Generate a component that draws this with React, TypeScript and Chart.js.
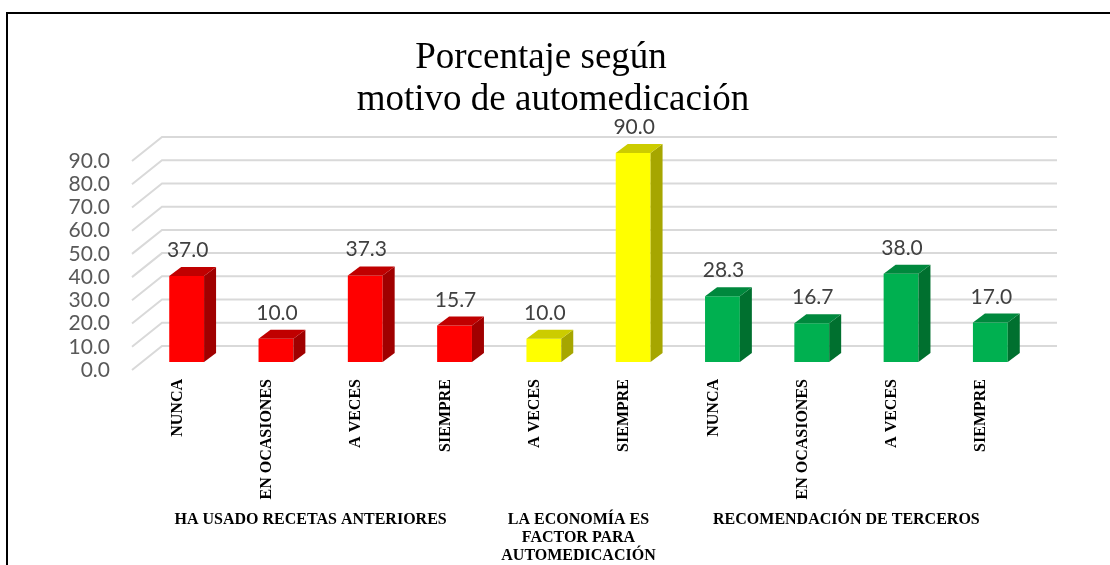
import React, { useEffect, useRef } from "react";
import { Chart, registerables } from "chart.js";

Chart.register(...registerables);

const categories = [
  "NUNCA",
  "EN OCASIONES",
  "A VECES",
  "SIEMPRE",
  "A VECES",
  "SIEMPRE",
  "NUNCA",
  "EN OCASIONES",
  "A VECES",
  "SIEMPRE",
];
const values = [37.0, 10.0, 37.3, 15.7, 10.0, 90.0, 28.3, 16.7, 38.0, 17.0];
const groupIndex = [0, 0, 0, 0, 1, 1, 2, 2, 2, 2];
const groupLabels = [
  ["HA USADO RECETAS ANTERIORES"],
  ["LA ECONOMÍA ES", "FACTOR PARA", "AUTOMEDICACIÓN"],
  ["RECOMENDACIÓN DE TERCEROS"],
];
const yTicks = [0, 10, 20, 30, 40, 50, 60, 70, 80, 90];
const titleLines = ["Porcentaje según", "motivo de automedicación"];

const frontColors = ["#FF0000", "#FFFF00", "#00B050"];
const topColors = ["#C00000", "#CCCC00", "#00883D"];
const sideColors = ["#A00000", "#A6A600", "#00702F"];

const DEPTH_X = 12;
const DEPTH_Y = 9;

const threeDPlugin = {
  id: "threeD",
  beforeDatasetsDraw(chart: any) {
    const { ctx, chartArea, scales } = chart;
    const ys = scales.y;
    const xs = scales.x;
    ctx.save();
    // border
    ctx.strokeStyle = "#000";
    ctx.lineWidth = 2;
    ctx.beginPath();
    ctx.moveTo(7, 570);
    ctx.lineTo(7, 13);
    ctx.lineTo(1115, 13);
    ctx.stroke();

    // title
    ctx.fillStyle = "#000";
    ctx.font = "37px 'Liberation Serif'";
    ctx.textAlign = "center";
    ctx.textBaseline = "alphabetic";
    ctx.fillText(titleLines[0], 541, 68);
    ctx.fillText(titleLines[1], 553, 110);

    // gridlines: back wall + diagonal side wall
    const frontL = chartArea.left - 10;
    const backL = chartArea.left + 20;
    const backR = chartArea.right + 22;
    ctx.strokeStyle = "#D9D9D9";
    ctx.lineWidth = 2;
    yTicks.forEach((v) => {
      const y = ys.getPixelForValue(v);
      ctx.beginPath();
      ctx.moveTo(frontL, y + 8);
      ctx.lineTo(backL, y - 16);
      ctx.lineTo(backR, y - 16);
      ctx.stroke();
    });

    // y tick labels
    ctx.fillStyle = "#595959";
    ctx.font = "21px Lato";
    ctx.textAlign = "right";
    ctx.textBaseline = "middle";
    yTicks.forEach((v) => {
      const y = ys.getPixelForValue(v);
      ctx.fillText(v.toFixed(1), 110, y + 8);
    });

    // category labels (rotated)
    ctx.fillStyle = "#000";
    ctx.font = "bold 16px 'Liberation Serif'";
    categories.forEach((c, i) => {
      const x = xs.getPixelForValue(i) - 9;
      ctx.save();
      ctx.translate(x, 379);
      ctx.rotate(-Math.PI / 2);
      ctx.textAlign = "right";
      ctx.textBaseline = "middle";
      ctx.fillText(c, 0, 0);
      ctx.restore();
    });

    // group labels
    const catW = (chartArea.right - chartArea.left) / categories.length;
    ctx.textAlign = "center";
    ctx.textBaseline = "middle";
    groupLabels.forEach((lines, g) => {
      const idx = groupIndex
        .map((gi, i) => (gi === g ? i : -1))
        .filter((i) => i >= 0);
      const l = xs.getPixelForValue(idx[0]) - catW / 2;
      const r = xs.getPixelForValue(idx[idx.length - 1]) + catW / 2;
      const cx = (l + r) / 2 - 10;
      lines.forEach((t, k) => {
        ctx.fillText(t, cx, 520 + k * 18);
      });
    });
    ctx.restore();
  },
  afterDatasetsDraw(chart: any) {
    const { ctx } = chart;
    const meta = chart.getDatasetMeta(0);
    ctx.save();
    meta.data.forEach((bar: any, i: number) => {
      const { x, y, base, width } = bar.getProps(["x", "y", "base", "width"], true);
      const g = groupIndex[i];
      const x1 = x - width / 2;
      const x2 = x + width / 2;
      // side face
      ctx.fillStyle = sideColors[g];
      ctx.beginPath();
      ctx.moveTo(x2, y);
      ctx.lineTo(x2 + DEPTH_X, y - DEPTH_Y);
      ctx.lineTo(x2 + DEPTH_X, base - DEPTH_Y);
      ctx.lineTo(x2, base);
      ctx.closePath();
      ctx.fill();
      // top face
      ctx.fillStyle = topColors[g];
      ctx.beginPath();
      ctx.moveTo(x1, y);
      ctx.lineTo(x1 + DEPTH_X, y - DEPTH_Y);
      ctx.lineTo(x2 + DEPTH_X, y - DEPTH_Y);
      ctx.lineTo(x2, y);
      ctx.closePath();
      ctx.fill();
      // data label
      ctx.fillStyle = "#404040";
      ctx.font = "21px Lato";
      ctx.textAlign = "center";
      ctx.textBaseline = "alphabetic";
      ctx.fillText(values[i].toFixed(1), x + 1, y - 19);
    });
    ctx.restore();
  },
};

export default function App() {
  const ref = useRef<HTMLCanvasElement>(null);
  useEffect(() => {
    if (!ref.current) return;
    const chart = new Chart(ref.current, {
      type: "bar",
      data: {
        labels: categories,
        datasets: [
          {
            data: values,
            backgroundColor: groupIndex.map((g) => frontColors[g]),
            borderWidth: 0,
            barPercentage: 0.39,
            categoryPercentage: 1,
          },
        ],
      },
      options: {
        responsive: false,
        animation: false,
        devicePixelRatio: 1,
        layout: { padding: { left: 142, right: 75, top: 153, bottom: 203 } },
        plugins: {
          legend: { display: false },
          title: { display: false },
          tooltip: { enabled: false },
        },
        scales: {
          x: { display: false, offset: true, grid: { display: false } },
          y: { display: false, min: 0, max: 90 },
        },
      },
      plugins: [threeDPlugin],
    });
    return () => chart.destroy();
  }, []);
  return (
    <canvas
      ref={ref}
      width={1110}
      height={565}
      style={{ position: "absolute", left: 0, top: 0, display: "block" }}
    />
  );
}
